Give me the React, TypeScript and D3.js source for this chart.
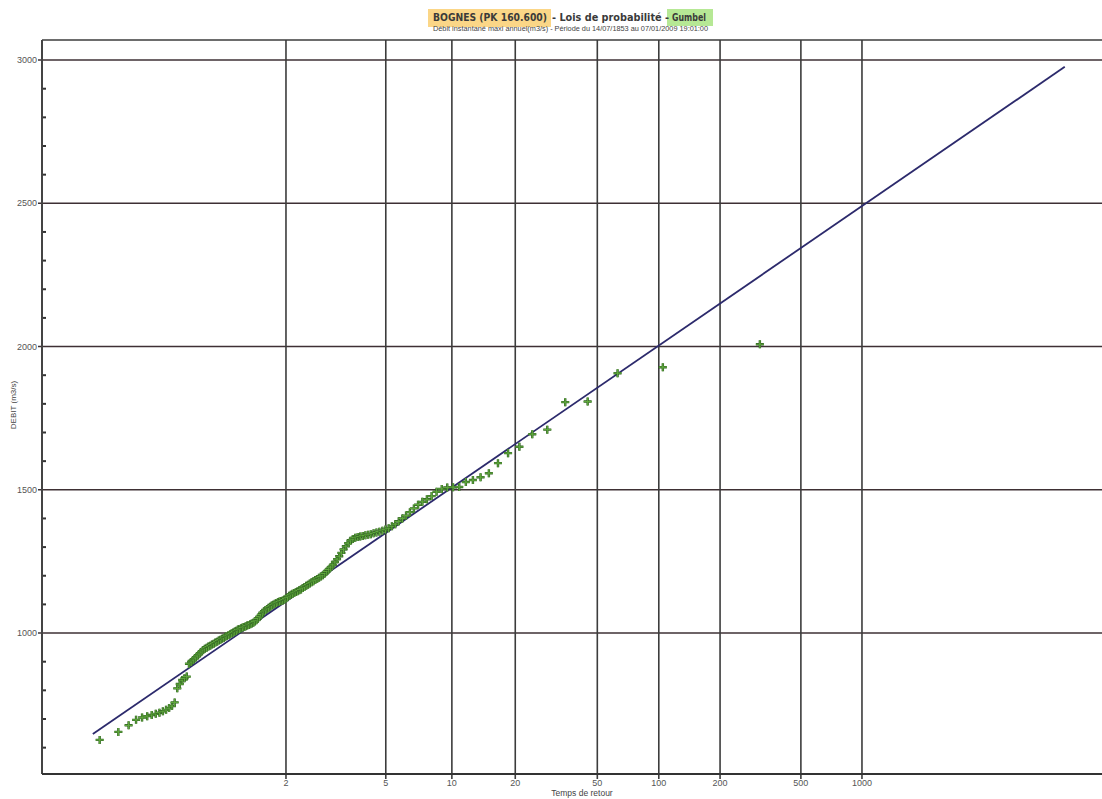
import React from "react";
import * as d3 from "d3";

// ---- DATA ----
// Annual instantaneous maximum discharges (m3/s), sorted ascending (157 years, 1853-2009)
const discharges: number[] = [
  627, 655, 678, 697, 705, 710, 714, 718, 722, 727,
  732, 738, 745, 758, 807, 822, 836, 842, 848, 893,
  899, 906, 913, 920, 927, 934, 941, 945, 949, 953,
  956, 960, 963, 967, 970, 974, 977, 980, 983, 987,
  990, 993, 996, 999, 1002, 1005, 1008, 1012, 1014, 1017,
  1019, 1021, 1024, 1026, 1028, 1031, 1033, 1036, 1040, 1045,
  1051, 1057, 1064, 1071, 1076, 1080, 1084, 1088, 1092, 1096,
  1099, 1102, 1105, 1108, 1110, 1112, 1114, 1117, 1121, 1125,
  1130, 1134, 1137, 1140, 1143, 1146, 1149, 1152, 1157, 1161,
  1165, 1169, 1173, 1177, 1181, 1185, 1189, 1193, 1197, 1202,
  1208, 1215, 1222, 1230, 1238, 1248, 1258, 1268, 1280, 1292,
  1303, 1314, 1322, 1328, 1333, 1335, 1337, 1339, 1341, 1343,
  1345, 1348, 1351, 1354, 1357, 1361, 1366, 1373, 1380, 1390,
  1400, 1410, 1422, 1435, 1448, 1458, 1467, 1478, 1493, 1503,
  1508, 1509, 1510, 1527, 1534, 1544, 1558, 1593, 1628, 1650,
  1694, 1710, 1806, 1808, 1907, 1928, 2008,
];

// Gumbel fit (location, scale) and the probability range drawn
const gumbelLocation = 1033;
const gumbelScale = 211;
const fitProbRange: number[] = [0.002, 0.9999];

const returnPeriodTicks: number[] = [2, 5, 10, 20, 50, 100, 200, 500, 1000];
const yMajorTicks: number[] = [1000, 1500, 2000, 2500, 3000];
const yMinorTicks: number[] = [600, 700, 800, 900, 1100, 1200, 1300, 1400, 1600, 1700, 1800, 1900, 2100, 2200, 2300, 2400, 2600, 2700, 2800, 2900];

const titleMain = "BOGNES (PK 160.600)";
const titleMid = "- Lois de probabilité -";
const titleLaw = "Gumbel";
const subtitle = "Débit instantané maxi annuel(m3/s) - Période du 14/07/1853 au 07/01/2009 19:01:00";
const xTitle = "Temps de retour";
const yTitle = "DEBIT (m3/s)";

// ---- helpers ----
const reducedFromF = (F: number) => -Math.log(-Math.log(F));
const reducedFromT = (T: number) => reducedFromF(1 - 1 / T);

const W = 1102;
const H = 799;
const left = 42;
const right = 1102;
const top = 40;
const bottom = 774;

export default function App() {
  const x = d3.scaleLinear().domain([-2.404, 9.633]).range([left, right]);
  const y = d3.scaleLinear().domain([508, 3070]).range([bottom, top]);

  const n = discharges.length;
  const points = discharges.map((q, i) => ({
    u: reducedFromF((i + 1 - 0.5) / n),
    q,
  }));

  const fitLine = d3
    .line<number>()
    .x((p) => x(reducedFromF(p)))
    .y((p) => y(gumbelLocation + gumbelScale * reducedFromF(p)));

  const gridH = "#3e3034";
  const gridV = "#3c3c3c";
  const font = "'Liberation Sans', Arial, sans-serif";

  return (
    <svg
      width={W}
      height={H}
      style={{ position: "absolute", left: 0, top: 0, background: "#fff" }}
    >
      {/* title */}
      <rect x={428} y={9} width={123} height={18} fill="#fbd27a" opacity={0.9} />
      <rect x={667} y={9} width={46} height={17} fill="#aee58a" opacity={0.9} />
      <text x={433} y={21} fontFamily="'DejaVu Sans', sans-serif" fontWeight="bold" fontSize={10} fill="#3a3a3a" textLength={114} lengthAdjust="spacingAndGlyphs">
        {titleMain}
      </text>
      <text x={552} y={21} fontFamily="'DejaVu Sans', sans-serif" fontWeight="bold" fontSize={10} fill="#3a3a3a" textLength={117} lengthAdjust="spacingAndGlyphs">
        {titleMid}
      </text>
      <text x={672} y={21} fontFamily="'DejaVu Sans', sans-serif" fontWeight="bold" fontSize={10} fill="#3a3a3a" textLength={34} lengthAdjust="spacingAndGlyphs">
        {titleLaw}
      </text>
      <text x={433} y={31} fontFamily={font} fontSize={6.5} fill="#444" textLength={275} lengthAdjust="spacingAndGlyphs">
        {subtitle}
      </text>

      {/* top frame */}
      <line x1={left} x2={right} y1={top} y2={top} stroke={gridV} strokeWidth={1.5} />

      {/* horizontal grid + y labels */}
      {yMajorTicks.map((v) => (
        <g key={"ym" + v}>
          <line x1={left - 4} x2={right} y1={y(v)} y2={y(v)} stroke={gridH} strokeWidth={1.6} />
          <text x={37} y={y(v) + 3} textAnchor="end" fontFamily={font} fontSize={9} fill="#555">
            {v}
          </text>
        </g>
      ))}
      {yMinorTicks.map((v) => (
        <line key={"yn" + v} x1={left} x2={left + 4} y1={y(v)} y2={y(v)} stroke="#333" strokeWidth={2} />
      ))}

      {/* vertical grid + x labels */}
      {returnPeriodTicks.map((T) => (
        <g key={"x" + T}>
          <line x1={x(reducedFromT(T))} x2={x(reducedFromT(T))} y1={top} y2={bottom + 5} stroke={gridV} strokeWidth={1.6} />
          <text x={x(reducedFromT(T))} y={786} textAnchor="middle" fontFamily={font} fontSize={9} fill="#555">
            {T}
          </text>
        </g>
      ))}

      {/* axes */}
      <line x1={left} x2={left} y1={top} y2={bottom} stroke="#444" strokeWidth={2} />
      <line x1={left} x2={right} y1={bottom} y2={bottom} stroke="#333" strokeWidth={1.8} />

      {/* axis titles */}
      <text x={582} y={796} textAnchor="middle" fontFamily={font} fontSize={8.5} fill="#444">
        {xTitle}
      </text>
      <text
        transform={`translate(16, ${405}) rotate(-90)`}
        textAnchor="middle"
        fontFamily={font}
        fontSize={8}
        fill="#444"
      >
        {yTitle}
      </text>

      {/* fitted Gumbel line */}
      <path d={fitLine(fitProbRange) || ""} fill="none" stroke="#2c2a6c" strokeWidth={1.8} />

      {/* observed points */}
      {points.map((p, i) => {
        const cx = x(p.u);
        const cy = y(p.q);
        const s = 4;
        const d = `M${cx - s},${cy}H${cx + s}M${cx},${cy - s}V${cy + s}`;
        return (
          <g key={"p" + i}>
            <path d={d} stroke="#2f5f22" strokeWidth={2.4} fill="none" />
            <path d={d} stroke="#5fa83c" strokeWidth={1.2} fill="none" />
          </g>
        );
      })}
    </svg>
  );
}
